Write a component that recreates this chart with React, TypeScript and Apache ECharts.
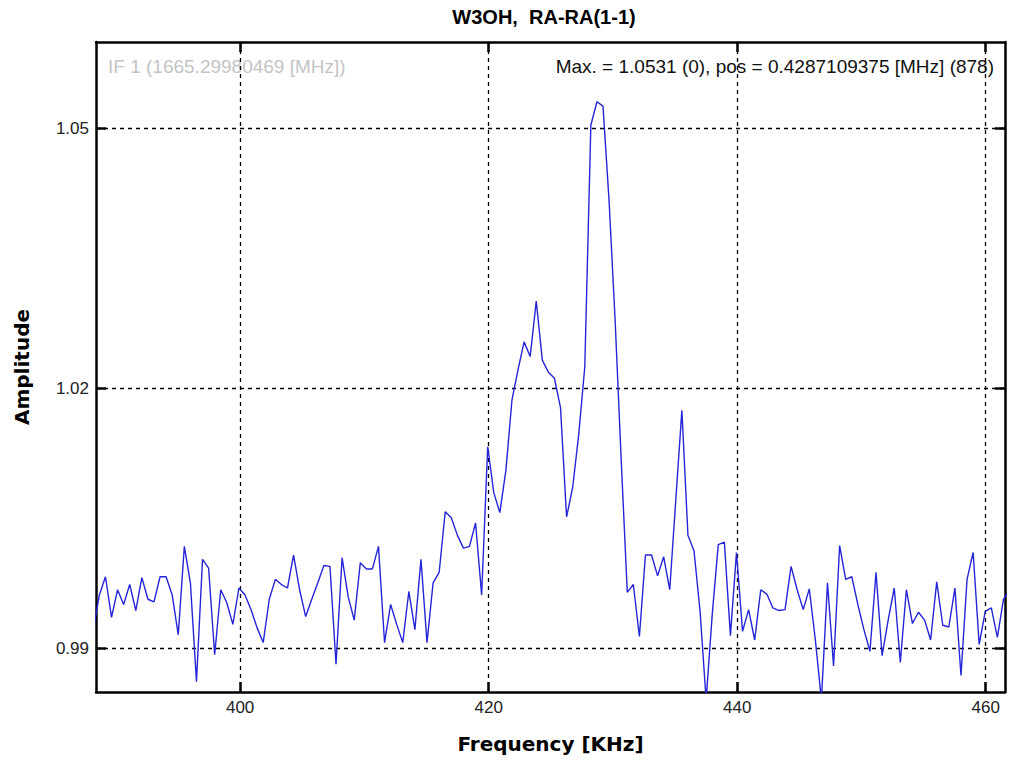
import React, { useEffect, useRef } from "react";
import * as echarts from "echarts";

// Spectrum: channel numbers and amplitudes (channel width 0.48828125 kHz)
const CHANNEL_START = 795;
const CHANNEL_WIDTH_KHZ = 0.48828125;
const amplitude = [
  0.9922, 0.9962, 0.9983, 0.9936, 0.9968, 0.9951, 0.9974, 0.9944, 0.9982, 0.9957,
  0.9954, 0.9983, 0.9983, 0.9962, 0.9916, 1.0018, 0.9976, 0.9862, 1.0003, 0.9993,
  0.9893, 0.9968, 0.9953, 0.9928, 0.9970, 0.9962, 0.9945, 0.9924, 0.9907, 0.9957,
  0.9980, 0.9974, 0.9970, 1.0008, 0.9968, 0.9937, 0.9957, 0.9976, 0.9996, 0.9995,
  0.9882, 1.0005, 0.9960, 0.9933, 0.9999, 0.9992, 0.9992, 1.0018, 0.9907, 0.9951,
  0.9928, 0.9907, 0.9966, 0.9922, 1.0003, 0.9907, 0.9976, 0.9988, 1.0058, 1.0051,
  1.0031, 1.0016, 1.0018, 1.0045, 0.9962, 1.0133, 1.0080, 1.0057, 1.0106, 1.0187,
  1.0222, 1.0254, 1.0237, 1.0301, 1.0233, 1.0219, 1.0212, 1.0178, 1.0052, 1.0086,
  1.0147, 1.0225, 1.0504, 1.0531, 1.0526, 1.0417, 1.0279, 1.0118, 0.9965, 0.9974,
  0.9914, 1.0008, 1.0008, 0.9984, 1.0006, 0.9968, 1.0072, 1.0175, 1.0031, 1.0013,
  0.9943, 0.9841, 0.9939, 1.0020, 1.0023, 0.9915, 1.0011, 0.9920, 0.9945, 0.9910,
  0.9968, 0.9963, 0.9947, 0.9944, 0.9945, 0.9995, 0.9968, 0.9945, 0.9969, 0.9910,
  0.9841, 0.9976, 0.9880, 1.0019, 0.9980, 0.9983, 0.9951, 0.9922, 0.9897, 0.9988,
  0.9892, 0.9933, 0.9970, 0.9884, 0.9968, 0.9929, 0.9942, 0.9933, 0.9910, 0.9977,
  0.9927, 0.9925, 0.9970, 0.9869, 0.9980, 1.0011, 0.9905, 0.9943, 0.9947, 0.9913,
  0.9957, 0.9968,
];

const xTicks = [400, 420, 440, 460];
const yTicks = [0.99, 1.02, 1.05];
const X_MIN = 388.4;
const X_MAX = 461.55;
const Y_MIN = 0.985;
const Y_MAX = 1.06;

const titleText = "W3OH,  RA-RA(1-1)";
const ifText = "IF 1 (1665.29980469 [MHz])";
const maxText = "Max. = 1.0531 (0), pos = 0.4287109375 [MHz] (878)";
const xName = "Frequency [KHz]";
const yName = "Amplitude";

export default function App() {
  const ref = useRef<HTMLDivElement>(null);
  useEffect(() => {
    if (!ref.current) return;
    const chart = echarts.init(ref.current, null, { renderer: "svg" });
    const data = amplitude.map((v, i) => [(CHANNEL_START + i) * CHANNEL_WIDTH_KHZ, v]);
    const tickStyle = { color: "#000", width: 2.5 };
    const gridLine = { show: true, lineStyle: { color: "#000", type: [4, 4] as any, width: 1.3 } };
    const labelFont = { fontFamily: "Liberation Sans, Arial, sans-serif", fontSize: 17, color: "#222" };
    const nameFont = { fontFamily: "DejaVu Sans, sans-serif", fontWeight: "bold" as const, fontSize: 20, color: "#000" };
    chart.setOption({
      animation: false,
      backgroundColor: "#fff",
      grid: { left: 96, top: 42, width: 909, height: 650, containLabel: false, outerBoundsMode: "none" },
      graphic: [
        {
          type: "text",
          style: {
            text: titleText,
            x: 544,
            y: 17,
            textAlign: "center",
            textVerticalAlign: "middle",
            font: "bold 20px 'Liberation Sans', Arial, sans-serif",
            fill: "#000",
          },
        },
        {
          type: "text",
          style: {
            text: ifText,
            x: 108,
            y: 66,
            textAlign: "left",
            textVerticalAlign: "middle",
            font: "19px 'Liberation Sans', Arial, sans-serif",
            fill: "#c4c4c4",
          },
        },
        {
          type: "text",
          style: {
            text: maxText,
            x: 994,
            y: 66,
            textAlign: "right",
            textVerticalAlign: "middle",
            font: "19px 'Liberation Sans', Arial, sans-serif",
            fill: "#111",
          },
        },
      ],
      xAxis: [
        {
          type: "value",
          position: "bottom",
          min: X_MIN,
          max: X_MAX,
          name: xName,
          nameLocation: "middle",
          nameGap: 42,
          nameTextStyle: nameFont,
          axisLine: { show: true, onZero: false, lineStyle: tickStyle },
          axisTick: { show: true, inside: true, length: 10, lineStyle: tickStyle, customValues: xTicks },
          axisLabel: { show: true, customValues: xTicks, margin: 7, ...labelFont, formatter: (v: number) => String(v) },
          splitLine: gridLine,
        },
        {
          type: "value",
          position: "top",
          min: X_MIN,
          max: X_MAX,
          axisLine: { show: true, onZero: false, lineStyle: tickStyle },
          axisTick: { show: true, inside: true, length: 10, lineStyle: tickStyle, customValues: xTicks },
          axisLabel: { show: false },
          splitLine: { show: false },
        },
      ],
      yAxis: [
        {
          type: "value",
          position: "left",
          min: Y_MIN,
          max: Y_MAX,
          name: yName,
          nameLocation: "middle",
          nameGap: 64,
          nameRotate: 90,
          nameTextStyle: nameFont,
          axisLine: { show: true, onZero: false, lineStyle: tickStyle },
          axisTick: { show: true, inside: true, length: 10, lineStyle: tickStyle, customValues: yTicks },
          axisLabel: { show: true, customValues: yTicks, margin: 7, ...labelFont, formatter: (v: number) => v.toFixed(2) },
          splitLine: gridLine,
        },
        {
          type: "value",
          position: "right",
          min: Y_MIN,
          max: Y_MAX,
          axisLine: { show: true, onZero: false, lineStyle: tickStyle },
          axisTick: { show: true, inside: true, length: 10, lineStyle: tickStyle, customValues: yTicks },
          axisLabel: { show: false },
          splitLine: { show: false },
        },
      ],
      series: [
        {
          type: "line",
          data,
          xAxisIndex: 0,
          yAxisIndex: 0,
          symbol: "none",
          clip: true,
          lineStyle: { color: "#2525d8", width: 1.4 },
        },
      ],
    });
    return () => chart.dispose();
  }, []);
  return (
    <div
      ref={ref}
      style={{ width: 1010, height: 760, position: "fixed", left: 0, top: 0, background: "#fff" }}
    />
  );
}
